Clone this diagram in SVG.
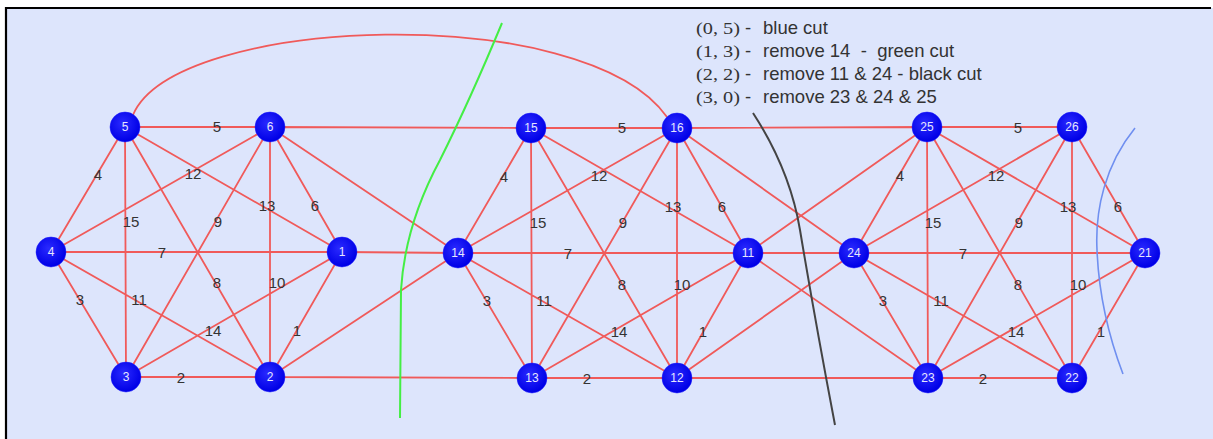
<svg xmlns="http://www.w3.org/2000/svg" width="1213" height="439" viewBox="0 0 1213 439">
<style>
.e{stroke:#f05a5a;stroke-width:1.8;fill:none}
.el{font-family:"Liberation Sans",Arial,sans-serif;font-size:15px;fill:#333;text-anchor:middle}
.nd{fill:url(#ng);stroke:#1a1aff;stroke-width:0.5}
.nl{font-family:"Liberation Sans",Arial,sans-serif;font-size:12px;fill:#e6e6ff;text-anchor:middle}
.tp{font-family:"Liberation Serif","Times New Roman",serif;font-size:17px;fill:#333}
.td{font-family:"Liberation Sans",Arial,sans-serif;font-size:18.5px;fill:#333;white-space:pre}
</style>
<defs>
<radialGradient id="ng" cx="0.42" cy="0.38" r="0.6">
<stop offset="0" stop-color="#2a2aff"/>
<stop offset="1" stop-color="#0000e6"/>
</radialGradient>
</defs>
<rect x="0" y="0" width="1213" height="439" fill="#ffffff"/>
<rect x="6" y="8" width="1207" height="431" fill="#dde5fc"/>
<path d="M5,8 H1211 M6,7 V439" stroke="#000" stroke-width="2.2" fill="none"/>

<g id="connectors">
<path class="e" d="M125,127 L270,127 M125,127 L51,252 M125,127 L342,252 M125,127 L126,377 M125,127 L270,377 M270,127 L51,252 M270,127 L342,252 M270,127 L126,377 M270,127 L270,377 M51,252 L342,252 M51,252 L126,377 M51,252 L270,377 M342,252 L126,377 M342,252 L270,377 M126,377 L270,377"/>
<path class="e" d="M531,128 L677,128 M531,128 L458,253 M531,128 L748,253 M531,128 L532,378 M531,128 L677,378 M677,128 L458,253 M677,128 L748,253 M677,128 L532,378 M677,128 L677,378 M458,253 L748,253 M458,253 L532,378 M458,253 L677,378 M748,253 L532,378 M748,253 L677,378 M532,378 L677,378"/>
<path class="e" d="M927,127 L1072,127 M927,127 L854,253 M927,127 L1145,253 M927,127 L928,378 M927,127 L1072,378 M1072,127 L854,253 M1072,127 L1145,253 M1072,127 L928,378 M1072,127 L1072,378 M854,253 L1145,253 M854,253 L928,378 M854,253 L1072,378 M1145,253 L928,378 M1145,253 L1072,378 M928,378 L1072,378"/>
<path class="e" d="M270,127 L531,128 M270,127 L458,253 M342,252 L458,253 M270,377 L458,253 M270,377 L532,378 M677,128 L927,127 M677,128 L854,253 M748,253 L854,253 M677,378 L854,253 M677,378 L928,378 M748,253 L927,127 M748,253 L928,378"/>
<path class="e" stroke-width="1.5" d="M133,115 C175,15 585,0 667,117"/>
</g>

<g id="cuts" fill="none">
<path d="M502,23 Q470,100 440,160 Q405,225 401,290 L400,418" stroke="#44ee44" stroke-width="2"/>
<path d="M753,113 Q790,170 800,230 Q815,320 835,425" stroke="#444444" stroke-width="2"/>
<path d="M1135,128 C1105,165 1095,210 1097,250 C1099,300 1110,340 1123,374" stroke="#6f8ff0" stroke-width="1.6"/>
</g>

<g id="edge-labels">
<text class="el" x="217" y="132">5</text><text class="el" x="98" y="180">4</text><text class="el" x="193" y="179">12</text><text class="el" x="131" y="227">15</text><text class="el" x="218" y="227">9</text><text class="el" x="267" y="211">13</text><text class="el" x="315" y="211">6</text><text class="el" x="162" y="258">7</text><text class="el" x="217" y="288">8</text><text class="el" x="277" y="288">10</text><text class="el" x="80" y="305">3</text><text class="el" x="139" y="305">11</text><text class="el" x="213" y="336">14</text><text class="el" x="297" y="336">1</text><text class="el" x="181" y="383">2</text>
<text class="el" x="622" y="133">5</text><text class="el" x="504" y="182">4</text><text class="el" x="599" y="181">12</text><text class="el" x="538" y="228">15</text><text class="el" x="623" y="228">9</text><text class="el" x="673" y="212">13</text><text class="el" x="722" y="212">6</text><text class="el" x="568" y="259">7</text><text class="el" x="622" y="290">8</text><text class="el" x="682" y="290">10</text><text class="el" x="487" y="306">3</text><text class="el" x="544" y="306">11</text><text class="el" x="619" y="337">14</text><text class="el" x="703" y="337">1</text><text class="el" x="587" y="384">2</text>
<text class="el" x="1018" y="133">5</text><text class="el" x="900" y="181">4</text><text class="el" x="996" y="181">12</text><text class="el" x="933" y="228">15</text><text class="el" x="1019" y="228">9</text><text class="el" x="1068" y="212">13</text><text class="el" x="1118" y="212">6</text><text class="el" x="963" y="259">7</text><text class="el" x="1018" y="290">8</text><text class="el" x="1078" y="290">10</text><text class="el" x="883" y="306">3</text><text class="el" x="941" y="306">11</text><text class="el" x="1016" y="337">14</text><text class="el" x="1101" y="337">1</text><text class="el" x="983" y="384">2</text>
</g>

<g id="node-5"><circle class="nd" cx="125" cy="127" r="15"/><text class="nl" x="125" y="131">5</text></g>
<g id="node-6"><circle class="nd" cx="270" cy="127" r="15"/><text class="nl" x="270" y="131">6</text></g>
<g id="node-4"><circle class="nd" cx="51" cy="252" r="15"/><text class="nl" x="51" y="256">4</text></g>
<g id="node-1"><circle class="nd" cx="342" cy="252" r="15"/><text class="nl" x="342" y="256">1</text></g>
<g id="node-3"><circle class="nd" cx="126" cy="377" r="15"/><text class="nl" x="126" y="381">3</text></g>
<g id="node-2"><circle class="nd" cx="270" cy="377" r="15"/><text class="nl" x="270" y="381">2</text></g>
<g id="node-15"><circle class="nd" cx="531" cy="128" r="15"/><text class="nl" x="531" y="132">15</text></g>
<g id="node-16"><circle class="nd" cx="677" cy="128" r="15"/><text class="nl" x="677" y="132">16</text></g>
<g id="node-14"><circle class="nd" cx="458" cy="253" r="15"/><text class="nl" x="458" y="257">14</text></g>
<g id="node-11"><circle class="nd" cx="748" cy="253" r="15"/><text class="nl" x="748" y="257">11</text></g>
<g id="node-13"><circle class="nd" cx="532" cy="378" r="15"/><text class="nl" x="532" y="382">13</text></g>
<g id="node-12"><circle class="nd" cx="677" cy="378" r="15"/><text class="nl" x="677" y="382">12</text></g>
<g id="node-25"><circle class="nd" cx="927" cy="127" r="15"/><text class="nl" x="927" y="131">25</text></g>
<g id="node-26"><circle class="nd" cx="1072" cy="127" r="15"/><text class="nl" x="1072" y="131">26</text></g>
<g id="node-24"><circle class="nd" cx="854" cy="253" r="15"/><text class="nl" x="854" y="257">24</text></g>
<g id="node-21"><circle class="nd" cx="1145" cy="253" r="15"/><text class="nl" x="1145" y="257">21</text></g>
<g id="node-23"><circle class="nd" cx="928" cy="378" r="15"/><text class="nl" x="928" y="382">23</text></g>
<g id="node-22"><circle class="nd" cx="1072" cy="378" r="15"/><text class="nl" x="1072" y="382">22</text></g>

<g id="legend">
<text class="tp" x="696" y="34" textLength="44" lengthAdjust="spacingAndGlyphs">(0, 5)</text><text class="td" x="745" y="34">-</text><text class="td" x="763" y="34">blue cut</text>
<text class="tp" x="696" y="57" textLength="44" lengthAdjust="spacingAndGlyphs">(1, 3)</text><text class="td" x="745" y="57">-</text><text class="td" x="763" y="57">remove 14  -  green cut</text>
<text class="tp" x="696" y="80" textLength="44" lengthAdjust="spacingAndGlyphs">(2, 2)</text><text class="td" x="745" y="80">-</text><text class="td" x="763" y="80">remove 11 &amp; 24 - black cut</text>
<text class="tp" x="696" y="103" textLength="44" lengthAdjust="spacingAndGlyphs">(3, 0)</text><text class="td" x="745" y="103">-</text><text class="td" x="763" y="103">remove 23 &amp; 24 &amp; 25</text>
</g>
</svg>
